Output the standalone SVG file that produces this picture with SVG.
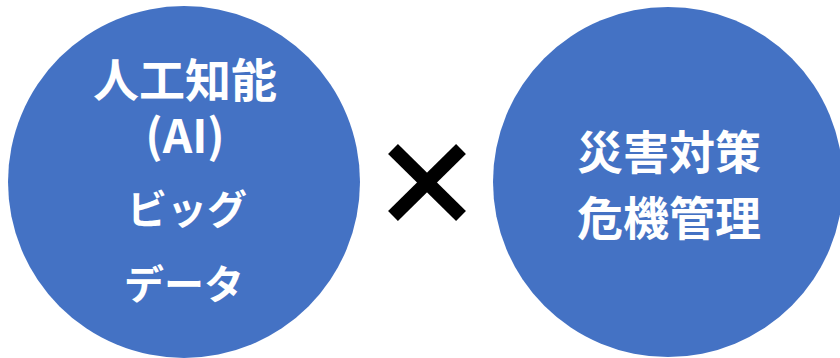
<svg xmlns="http://www.w3.org/2000/svg" width="840" height="358" viewBox="0 0 840 358">
<style>
.node{fill:#4472C4}
.t{fill:#fff;font-family:"Noto Sans CJK JP","Noto Sans",sans-serif;font-weight:bold;text-anchor:middle}
.x{stroke:#000;stroke-width:14;stroke-linecap:butt}
</style>
<rect width="840" height="358" fill="#fff"/>
<g id="ai-bigdata">
<circle class="node" cx="184" cy="182" r="176"/>
<text class="t" x="185" y="97" font-size="46">人工知能</text>
<text class="t" x="185" y="153" font-size="46">(AI)</text>
<text class="t" x="187" y="224" font-size="40">ビッグ</text>
<text class="t" x="184" y="299" font-size="40">データ</text>
</g>
<g id="connectors">
<line class="x" x1="393" y1="149" x2="461" y2="216"/>
<line class="x" x1="461" y1="149" x2="393" y2="216"/>
</g>
<g id="disaster">
<circle class="node" cx="668" cy="182" r="175"/>
<text class="t" x="669" y="169" font-size="46">災害対策</text>
<text class="t" x="669" y="235" font-size="46">危機管理</text>
</g>
</svg>
